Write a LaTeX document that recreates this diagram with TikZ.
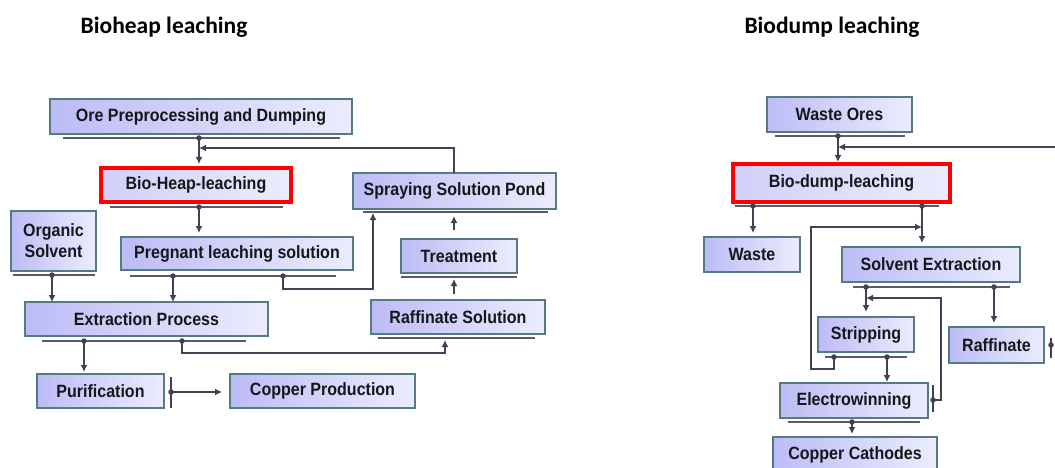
\documentclass[tikz,border=0pt]{standalone}
\usepackage{fontspec}
\setmainfont{Liberation Sans}[FakeStretch=0.9]
\newfontfamily\headfont{Carlito}
\usetikzlibrary{arrows.meta}

\definecolor{boxedge}{RGB}{84,122,132}
\definecolor{boxleft}{RGB}{188,188,246}
\definecolor{boxright}{RGB}{236,236,253}
\definecolor{wire}{RGB}{72,62,84}
\definecolor{shelfgray}{RGB}{92,90,100}
\definecolor{ink}{RGB}{22,22,28}

\tikzset{
  x=1pt, y=-1pt,
  box/.style={draw=boxedge, line width=1.3pt, left color=boxleft, right color=boxright,
    inner sep=0pt, text=ink, font=\bfseries\fontsize{17.8}{20}\selectfont, align=center},
  hot/.style={box, draw=red, line width=3.5pt, left color=boxleft!70!white, right color=boxright},
  shelf/.style={draw=shelfgray, line width=2pt},
  wireline/.style={draw=wire, line width=1.6pt},
  flow/.style={wireline, -{Latex[length=7pt,width=7pt]}},
  joint/.style={circle, fill=wire, inner sep=0pt, minimum size=5.5pt},
  heading/.style={font=\headfont\bfseries\fontsize{23.5}{26}\selectfont, text=black, inner sep=0pt}
}

\begin{document}
\begin{tikzpicture}
\useasboundingbox (0,0) rectangle (1055,468);
\fill[white] (0,0) rectangle (1055,468);

% ---------------- headings ----------------
\node[heading] (h1) at (164,27) {Bioheap leaching};
\node[heading] (h2) at (832,27) {Biodump leaching};

% ================= bioheap leaching =================
\node[box, minimum width=302, minimum height=35] (ore)   at (201,116.5) {Ore Preprocessing and Dumping};
\node[hot, minimum width=190, minimum height=34] (bio)   at (196,185)   {Bio-Heap-leaching};
\node[box, minimum width=232, minimum height=33] (preg)  at (237,253.5) {Pregnant leaching solution};
\node[box, minimum width=203, minimum height=36] (spray) at (454.5,191) {Spraying Solution Pond};
\node[box, minimum width=116, minimum height=34] (treat) at (459,256)   {Treatment};
\node[box, minimum width=174, minimum height=34] (raff)  at (458,317)   {Raffinate Solution};
\node[box, minimum width=85,  minimum height=60] (org)   at (53.5,241)  {Organic\\[1pt]Solvent};
\node[box, minimum width=243, minimum height=34] (ext)   at (146.5,319) {Extraction Process};
\node[box, minimum width=127, minimum height=34] (pur)   at (100.5,391) {Purification};
\node[box, minimum width=185, minimum height=34] (cu)    at (322.5,391) {Copper Production};

% shelves under the boxes
\draw[shelf] (63,138) -- (340,138);
\draw[shelf] (110,207) -- (283,207);
\draw[shelf] (130,276) -- (336,276);
\draw[shelf] (363,212) -- (548,212);
\draw[shelf] (401,277) -- (517,277);
\draw[shelf] (378,338) -- (535,338);
\draw[shelf] (13,275) -- (95,275);
\draw[shelf] (42,341) -- (246,341);

% joints on the shelves
\node[joint] (o1) at (199,138) {};
\node[joint] (b1) at (199,207) {};
\node[joint] (p1) at (173,276) {};
\node[joint] (p2) at (283,276) {};
\node[joint] (g1) at (52,275)  {};
\node[joint] (e1) at (84,341)  {};
\node[joint] (e2) at (182,341) {};
\node[joint] (pt) at (171,392) {};

% bends and free ends
\coordinate (sprayTop) at (454,173);
\coordinate (r1) at (454,148);
\coordinate (r2) at (199,148);
\coordinate (q1) at (283,289);
\coordinate (q2) at (373,289);
\coordinate (q3) at (373,213);
\coordinate (f1) at (182,353);
\coordinate (f2) at (445,353);
\coordinate (f3) at (445,340);
\coordinate (t1) at (454,230);
\coordinate (t2) at (454,216);
\coordinate (t3) at (454,294);
\coordinate (t4) at (454,279);
\coordinate (k1) at (171,377);
\coordinate (k2) at (171,408);
\coordinate (k3) at (222,392);

\draw[flow] (o1.center) -- (199,164);
\draw[flow] (sprayTop) -- (r1) -- (r2);
\draw[flow] (b1.center) -- (199,233);
\draw[flow] (p1.center) -- (173,302);
\draw[flow] (g1.center) -- (52,302);
\draw[flow] (p2.center) -- (q1) -- (q2) -- (q3);
\draw[flow] (e1.center) -- (84,372);
\draw[flow] (e2.center) -- (f1) -- (f2) -- (f3);
\draw[flow] (t1) -- (t2);
\draw[flow] (t3) -- (t4);
\draw[wireline] (k1) -- (k2);
\draw[flow] (pt.center) -- (k3);

% ================= biodump leaching =================
\node[box, minimum width=145, minimum height=35] (wo)    at (839.5,114.5) {Waste Ores};
\node[hot, minimum width=217, minimum height=38] (bd)    at (841.5,183)   {Bio-dump-leaching};
\node[box, minimum width=96,  minimum height=35] (waste) at (752,254.5)   {Waste};
\node[box, minimum width=178, minimum height=35] (sx)    at (931,264.5)   {Solvent Extraction};
\node[box, minimum width=96,  minimum height=35] (strip) at (866,334.5)   {Stripping};
\node[box, minimum width=95,  minimum height=36] (raffr) at (996.5,345)   {Raffinate};
\node[box, minimum width=148, minimum height=35] (ew)    at (854,400.5)   {Electrowinning};
\node[box, minimum width=164, minimum height=35] (cc)    at (855,454.5)   {Copper Cathodes};

% shelves under the boxes
\draw[shelf] (775,136) -- (905,136);
\draw[shelf] (735,206) -- (939,206);
\draw[shelf] (853,287) -- (1010,287);
\draw[shelf] (825,357) -- (907,357);
\draw[shelf] (788,422) -- (920,422);

% joints
\node[joint] (w1) at (838,136) {};
\node[joint] (d1) at (753,206) {};
\node[joint] (d2) at (922,206) {};
\node[joint] (x1) at (866,287) {};
\node[joint] (x2) at (994,287) {};
\node[joint] (s1) at (834,357) {};
\node[joint] (s2) at (887,357) {};
\node[joint] (c1) at (852,422) {};
\node[joint] (et) at (933,400) {};
\node[joint] (rt) at (1051,345) {};

% bends and free ends
\coordinate (edge) at (1056,147);
\coordinate (m1) at (838,147);
\coordinate (l1) at (834,369);
\coordinate (l2) at (811,369);
\coordinate (l3) at (811,227);
\coordinate (l4) at (922,227);
\coordinate (u1) at (941,400);
\coordinate (u2) at (941,298);
\coordinate (u3) at (866,298);

\draw[flow] (w1.center) -- (838,162);
\draw[flow] (edge) -- (m1);
\draw[flow] (d1.center) -- (753,233);
\draw[flow] (d2.center) -- (922,243);
\draw[flow] (s1.center) -- (l1) -- (l2) -- (l3) -- (l4);
\draw[flow] (x1.center) -- (866,312);
\draw[flow] (x2.center) -- (994,323);
\draw[flow] (s2.center) -- (887,382);
\draw[flow] (c1.center) -- (852,434);
\draw[wireline] (933,385) -- (933,412);
\draw[flow] (et.center) -- (u1) -- (u2) -- (u3);
\draw[wireline] (1051,338) -- (1051,358);
\end{tikzpicture}
\end{document}
